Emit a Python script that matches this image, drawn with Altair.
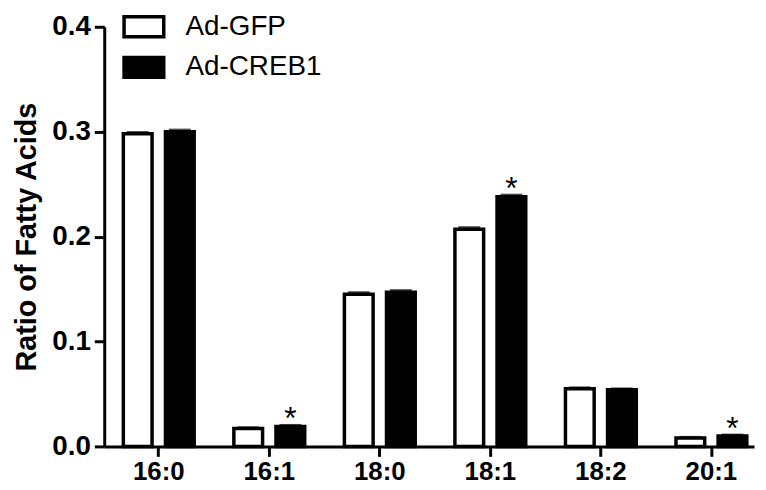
import altair as alt
import pandas as pd

acids = ["16:0", "16:1", "18:0", "18:1", "18:2", "20:1"]
groups = ["Ad-GFP", "Ad-CREB1"]
gfp = [0.298, 0.017, 0.145, 0.207, 0.055, 0.008]
creb1 = [0.300, 0.019, 0.147, 0.238, 0.054, 0.010]
gfp_err = [0.0012, 0.0008, 0.0015, 0.0015, 0.0008, 0.0006]
creb1_err = [0.0015, 0.0010, 0.0015, 0.0015, 0.0008, 0.0008]
star = [False, True, False, True, False, True]

rows = []
for i, a in enumerate(acids):
    rows.append({"acid": a, "group": groups[0], "value": gfp[i], "top": gfp[i] + gfp_err[i], "star": ""})
    rows.append({"acid": a, "group": groups[1], "value": creb1[i], "top": creb1[i] + creb1_err[i],
                 "star": "*" if star[i] else ""})
df = pd.DataFrame(rows)

FONT = "Liberation Sans"

xenc = alt.X("acid:N", sort=acids,
             scale=alt.Scale(paddingInner=0.359, paddingOuter=0.119, align=0.726),
             axis=alt.Axis(title=None, labelAngle=0, labelFontSize=26, labelFontWeight="bold",
                           labelFont=FONT, labelColor="black", tickSize=10, tickWidth=3,
                           tickColor="black", domainWidth=3, domainColor="black", labelPadding=2))
xoff = alt.XOffset("group:N", sort=groups, scale=alt.Scale(paddingInner=0.318, paddingOuter=0))
yscale = alt.Scale(domain=[0, 0.4], nice=False)

bars = alt.Chart(df).mark_bar(stroke="black", strokeWidth=3.5).encode(
    x=xenc,
    xOffset=xoff,
    y=alt.Y("value:Q", scale=yscale,
            axis=alt.Axis(title="Ratio of Fatty Acids", titleFontSize=29, titleFontWeight="bold",
                          titleFont=FONT, titleColor="black", titlePadding=10,
                          values=[0, 0.1, 0.2, 0.3, 0.4], format=".1f", grid=False,
                          labelFontSize=28, labelFontWeight="bold", labelFont=FONT, labelColor="black",
                          tickSize=10, tickWidth=3, tickColor="black", domainWidth=3,
                          domainColor="black", labelPadding=4)),
    fill=alt.Fill("group:N", sort=groups,
                  scale=alt.Scale(domain=groups, range=["white", "black"]),
                  legend=alt.Legend(title=None, orient="none", legendX=18, legendY=-22,
                                    padding=0,
                                    symbolType="M-1,-0.5H1V0.5H-1Z", symbolSize=1600,
                                    symbolStrokeColor="black", symbolStrokeWidth=3.5,
                                    labelFontSize=28, labelFont=FONT, labelColor="black",
                                    labelOffset=20, rowPadding=2)),
)

caps = alt.Chart(df).mark_tick(color="black", thickness=3, size=22).encode(
    x=alt.X("acid:N", sort=acids),
    xOffset=alt.XOffset("group:N", sort=groups),
    y=alt.Y("top:Q", scale=yscale),
)

stars = alt.Chart(df).mark_text(fontSize=32, font=FONT, color="black", baseline="alphabetic", dy=4).encode(
    x=alt.X("acid:N", sort=acids),
    xOffset=alt.XOffset("group:N", sort=groups),
    y=alt.Y("top:Q", scale=yscale),
    text="star:N",
)

chart = alt.layer(bars, caps, stars).properties(
    width=655, height=423,
    autosize=alt.AutoSizeParams(type="none"),
    padding={"left": 97, "top": 17, "right": 4, "bottom": 40},
).configure_view(stroke=None)

chart.save("out.html", embed_options={"renderer": "svg", "actions": False})
